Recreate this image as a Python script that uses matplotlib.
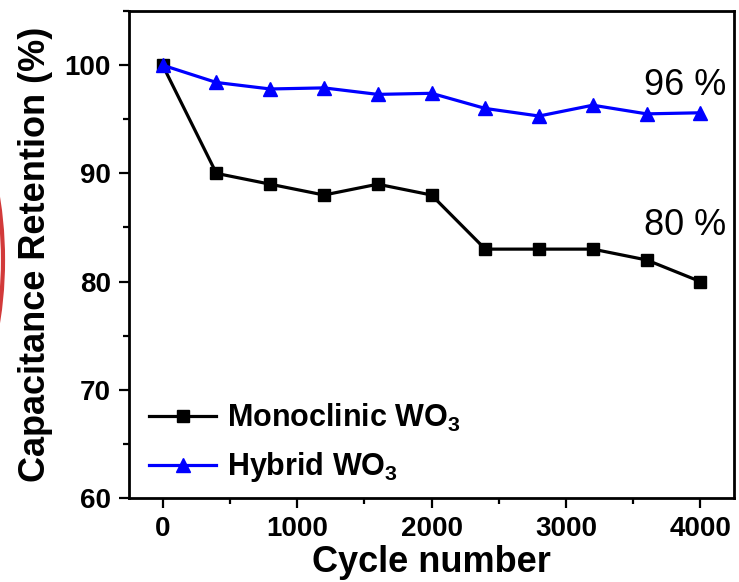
import matplotlib
matplotlib.use("Agg")
import matplotlib.pyplot as plt
from matplotlib.patches import Circle
from matplotlib.ticker import MultipleLocator

plt.rcParams['font.family'] = ['Liberation Sans', 'DejaVu Sans']
plt.rcParams['mathtext.fontset'] = 'custom'
plt.rcParams['mathtext.rm'] = 'Liberation Sans:bold'
plt.rcParams['mathtext.bf'] = 'Liberation Sans:bold'

cycles = [0, 400, 800, 1200, 1600, 2000, 2400, 2800, 3200, 3600, 4000]
monoclinic = [100, 90, 89, 88, 89, 88, 83, 83, 83, 82, 80]
hybrid = [100, 98.4, 97.8, 97.9, 97.3, 97.4, 96.0, 95.3, 96.3, 95.5, 95.6]

fig = plt.figure(figsize=(7.39, 5.82), dpi=100)
ax = fig.add_axes([0.1746, 0.1443, 0.8186, 0.8367])

ax.plot(cycles, monoclinic, color='black', lw=2.3, marker='s', ms=8.5,
        label=r'Monoclinic WO$_{\mathbf{3}}$')
ax.plot(cycles, hybrid, color='blue', lw=2.3, marker='^', ms=10.5,
        label=r'Hybrid WO$_{\mathbf{3}}$')

ax.set_xlim(-250, 4250)
ax.set_ylim(60, 105)
ax.xaxis.set_major_locator(MultipleLocator(1000))
ax.xaxis.set_minor_locator(MultipleLocator(500))
ax.yaxis.set_major_locator(MultipleLocator(10))
ax.yaxis.set_minor_locator(MultipleLocator(5))
ax.tick_params(which='major', direction='out', length=7, width=1.6,
               labelsize=20, pad=6)
ax.tick_params(which='minor', direction='out', length=4, width=1.6)
for lab in ax.get_xticklabels() + ax.get_yticklabels():
    lab.set_fontweight('bold')
for s in ax.spines.values():
    s.set_linewidth(2)

ax.set_xlabel('Cycle number', fontsize=26, fontweight='bold', labelpad=2)
ax.set_ylabel('Capacitance Retention (%)', fontsize=26, fontweight='bold',
              labelpad=8)

ax.text(3580, 97.2, '96 %', fontsize=26)
ax.text(3580, 84.3, '80 %', fontsize=26)

ax.legend(loc='lower left', bbox_to_anchor=(0.013, 0.003), frameon=False,
          prop={'size': 22, 'weight': 'bold'},
          handlelength=2.2, handletextpad=0.35, labelspacing=0.55,
          borderaxespad=0)

# red arc remnant at the left edge
fig.add_artist(Circle((-3.97, 3.22), 4.0, transform=fig.dpi_scale_trans,
                      fill=False, edgecolor='#d23a3a', lw=3, clip_on=False))

fig.savefig('out.png', dpi=100)
